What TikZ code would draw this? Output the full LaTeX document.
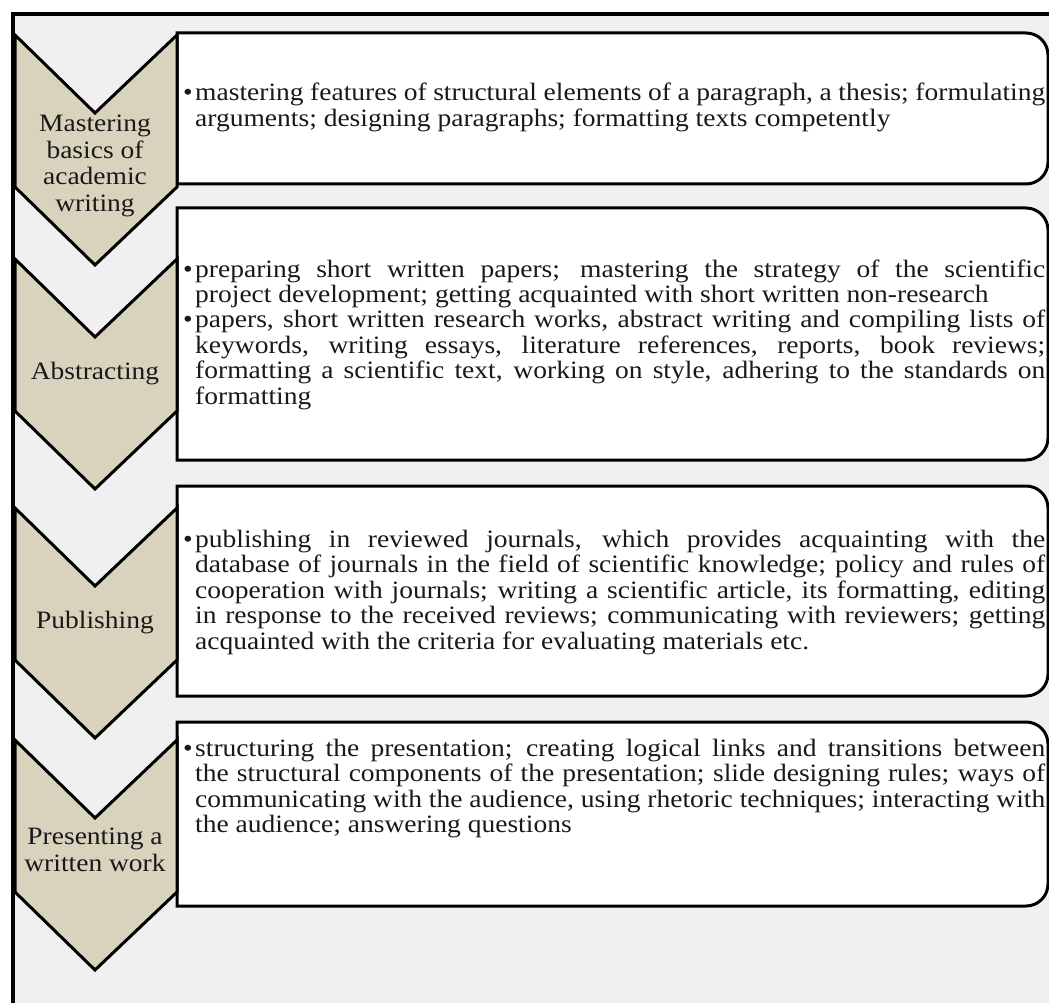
\documentclass[tikz,border=0pt]{standalone}
\usepackage{fontspec}
\setmainfont{Liberation Serif}[FakeStretch=1.1]
\definecolor{chev}{RGB}{217,211,190}
\definecolor{bg}{RGB}{240,240,240}
\definecolor{ink}{RGB}{25,25,25}
\tikzset{
  frameline/.style={line width=4pt, draw=black, fill=bg},
  boxline/.style={line width=3pt, draw=black, fill=white},
  chevline/.style={line width=3pt, draw=black, fill=chev, line join=miter},
  lbl/.style={font=\fontsize{25}{26.5}\selectfont, align=center, inner sep=0pt, text=ink},
  bodyline/.style={font=\fontsize{25}{25.5}\selectfont, anchor=base west, inner sep=0pt, text=ink},
  bul/.style={font=\fontsize{25}{25.5}\selectfont, anchor=base east, inner sep=0pt, text=ink},
}
\newcommand\jl[3]{\node[bodyline] (#1) at (195,#2) {\makebox[850pt][s]{#3}};}
\newcommand\rl[3]{\node[bodyline] (#1) at (195,#2) {#3};}
\newcommand\bl[2]{\node[bul] (#1) at (193,#2) {\textbullet};}
\newcommand\rbox[2]{\draw[boxline] (177,#1) -- (1026,#1) arc[start angle=-90,end angle=0,radius=22] -- (1048,#2-22) arc[start angle=0,end angle=90,radius=22] -- (177,#2) -- cycle;}
\newcommand\chev[1]{\draw[chevline] (15,#1) -- (95,#1+78) -- (177,#1) -- (177,#1+152) -- (95,#1+230) -- (15,#1+152) -- cycle;}
\begin{document}
\begin{tikzpicture}[x=1pt,y=-1pt]
\useasboundingbox (0,0) rectangle (1049,1003);
\clip (0,0) rectangle (1049,1003);
\fill[white] (0,0) rectangle (1049,1003);
\draw[frameline] (13,14) rectangle (1090,1050);
% boxes
\rbox{33}{184}
\rbox{208}{460}
\rbox{486}{696}
\rbox{722}{906}
% chevrons
\chev{35}
\chev{259}
\chev{508}
\chev{740}
% labels
\node[lbl] (l1) at (95,166) {Mastering\\basics of\\academic\\writing};
\node[lbl] (l2) at (95,374) {Abstracting};
\node[lbl] (l3) at (95,623) {Publishing};
\node[lbl] (l4) at (95,850) {Presenting a\\written work};
% box 1
\bl{b1}{101}\jl{t11}{101}{mastering features of structural elements of a paragraph, a thesis; formulating}
\rl{t12}{126.5}{arguments; designing paragraphs; formatting texts competently}
% box 2
\bl{b2}{277}\jl{t21}{277}{preparing short written papers; mastering the strategy of the scientific}
\rl{t22}{302.4}{project development; getting acquainted with short written non-research}
\bl{b3}{327.8}\jl{t23}{327.8}{papers, short written research works, abstract writing and compiling lists of}
\jl{t24}{353.2}{keywords, writing essays, literature references, reports, book reviews;}
\jl{t25}{378.6}{formatting a scientific text, working on style, adhering to the standards on}
\rl{t26}{404}{formatting}
% box 3
\bl{b4}{547}\jl{t31}{547}{publishing in reviewed journals, which provides acquainting with the}
\jl{t32}{572.5}{database of journals in the field of scientific knowledge; policy and rules of}
\jl{t33}{598}{cooperation with journals; writing a scientific article, its formatting, editing}
\jl{t34}{623.5}{in response to the received reviews; communicating with reviewers; getting}
\rl{t35}{649}{acquainted with the criteria for evaluating materials etc.}
% box 4
\bl{b5}{756}\jl{t41}{756}{structuring the presentation; creating logical links and transitions between}
\jl{t42}{781.5}{the structural components of the presentation; slide designing rules; ways of}
\jl{t43}{807}{communicating with the audience, using rhetoric techniques; interacting with}
\rl{t44}{832.5}{the audience; answering questions}
\end{tikzpicture}
\end{document}
